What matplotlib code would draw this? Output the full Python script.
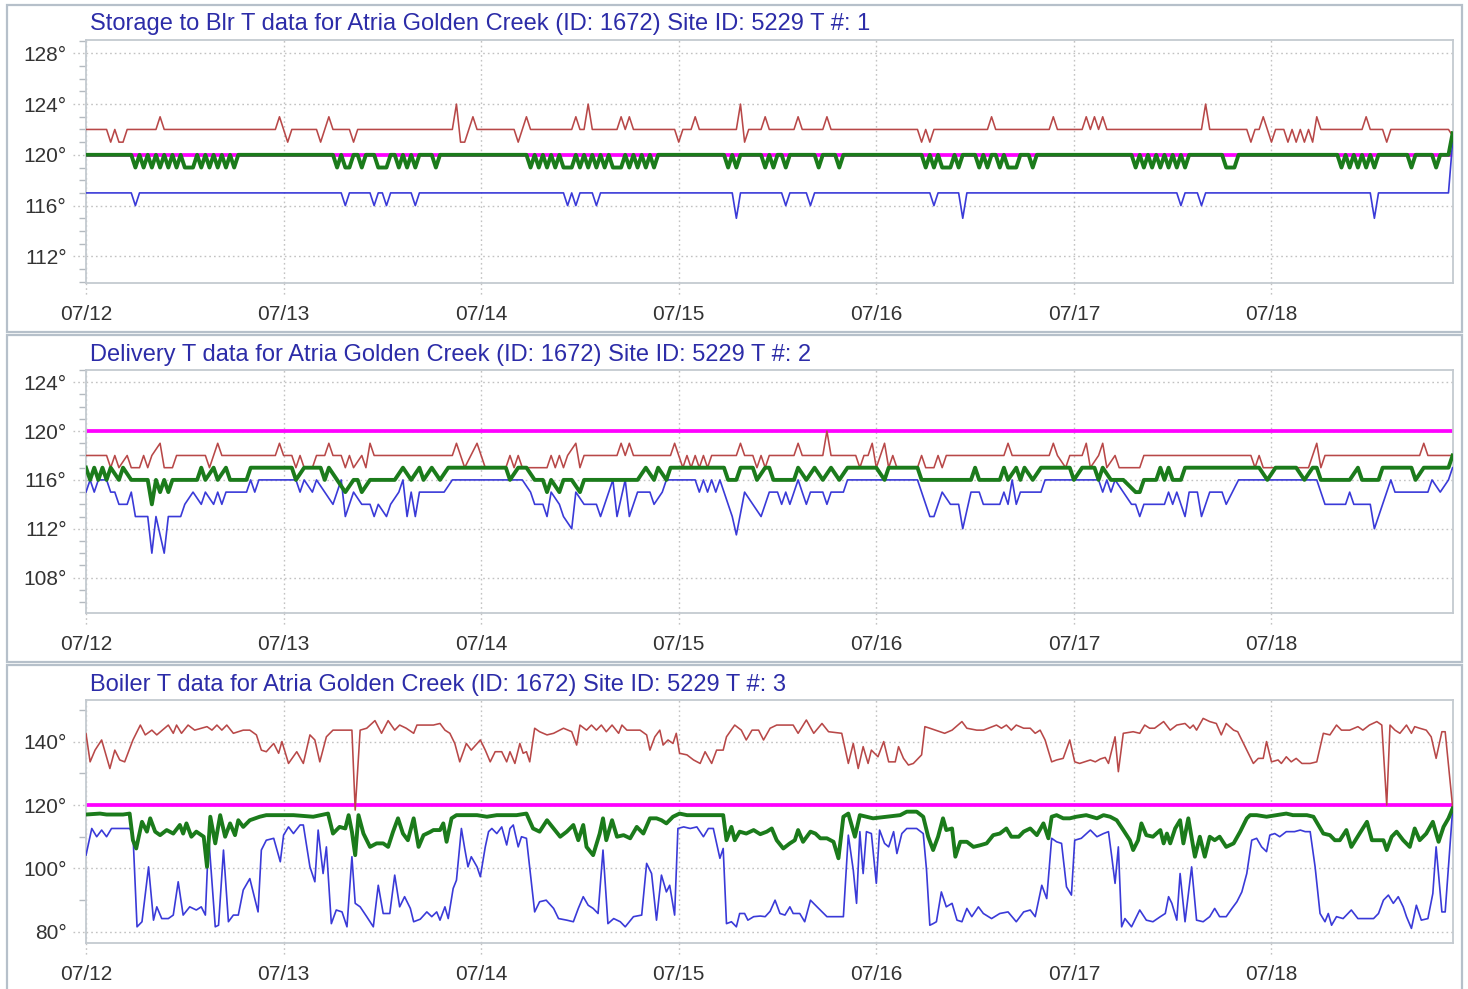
import matplotlib
matplotlib.use('Agg')
import matplotlib.pyplot as plt
from matplotlib.patches import Rectangle
from matplotlib.ticker import MultipleLocator, FixedLocator, FuncFormatter
import matplotlib.transforms as mtransforms

plt.rcParams['font.family'] = ['Liberation Sans', 'DejaVu Sans']

# ---------------- data (hours since 07/12 00:00, temperature °F) ----------------
DAY_LABELS = ['07/12', '07/13', '07/14', '07/15', '07/16', '07/17', '07/18']
DAY_HOURS = [0, 24, 48, 72, 96, 120, 144]
SETPOINT = 120
SETPOINT_SPAN = [0, 166]

TITLES = [
    "Storage to Blr T data for Atria Golden Creek (ID: 1672) Site ID: 5229 T #: 1",
    "Delivery T data for Atria Golden Creek (ID: 1672) Site ID: 5229 T #: 2",
    "Boiler T data for Atria Golden Creek (ID: 1672) Site ID: 5229 T #: 3",
]

# Panel 1 : Storage to boiler
STORE_RED = [(0,122),(2.5,122),(3,121),(3.5,122),(4,121),(4.5,121),(5,122),(8.5,122),(9,123),(9.5,122),
    (23,122),(23.5,123),(24.5,121),(25,122),(28,122),(28.5,121),(29.5,123),(30,122),(32,122),(32.5,121),(33,122),
    (44.5,122),(45,124),(45.5,121),(46,121),(46.5,122),(47,123),(47.5,122),(52,122),(52.5,121),(53.5,123),(54,122),
    (59,122),(59.5,123),(60,122),(60.5,122),(61,124),(61.5,122),(64.5,122),(65,123),(65.5,122),(66,123),(66.5,122),
    (71.5,122),(72,121),(72.5,122),(73.5,122),(74,123),(74.5,122),(79,122),(79.5,124),(80,121),(80.5,122),
    (82,122),(82.5,123),(83,122),(86,122),(86.5,123),(87,122),(89.5,122),(90,123),(90.5,122),
    (101,122),(101.5,121),(102,122),(102.5,121),(103,122),(109.5,122),(110,123),(110.5,122),(117,122),(117.5,123),(118,122),
    (121,122),(121.5,123),(122,122),(122.5,123),(123,122),(123.5,123),(124,122),(135.5,122),(136,124),(136.5,122),
    (141,122),(141.5,121),(142,122),(142.5,122),(143,123),(144,121),(144.5,122),(145.5,122),(146,121),(146.5,122),
    (147,121),(147.5,122),(148,121),(148.5,122),(149,121),(149.5,123),(150,122),(155,122),(155.5,123),(156,122),
    (157.5,122),(158,121),(158.5,122),(165.5,122),(166,121.5)]
STORE_GREEN = [(0,120),(5.5,120),(6,119),(6.5,120),(7,119),(7.5,120),(8,119),(8.5,120),(9,119),(9.5,120),(10,119),
    (10.5,120),(11,119),(11.5,120),(12,119),(13,119),(13.5,120),(14,119),(14.5,120),(15,119),(15.5,120),(16,119),
    (16.5,120),(17,119),(17.5,120),(18,119),(18.5,120),
    (30,120),(30.5,119),(31,120),(31.5,119),(32,119),(32.5,120),(33,120),(33.5,119),(34,120),(35,120),(35.5,119),
    (36.5,119),(37,120),(37.5,120),(38,119),(38.5,120),(39,119),(39.5,120),(40,119),(40.5,120),(42,120),(42.5,119),(43,120),
    (53.5,120),(54,119),(54.5,120),(55,119),(55.5,120),(56,119),(56.5,120),(57,119),(57.5,120),(58,119),(59,119),
    (59.5,120),(60,119),(60.5,120),(61,119),(61.5,120),(62,119),(62.5,120),(63,119),(63.5,120),(64,119),(65,119),
    (65.5,120),(66,119),(66.5,120),(67,119),(67.5,120),(68,119),(68.5,120),(69,119),(69.5,120),
    (77.5,120),(78,119),(78.5,120),(79,119),(79.5,120),(82,120),(82.5,119),(83,120),(83.5,119),(84,120),(84.5,120),
    (85,119),(85.5,120),(88.5,120),(89,119),(89.5,120),(91,120),(91.5,119),(92,120),
    (101.5,120),(102,119),(102.5,120),(103,119),(103.5,120),(104,119),(105,119),(105.5,120),(106,119),(106.5,120),
    (108,120),(108.5,119),(109,120),(109.5,119),(110,120),(110.5,120),(111,119),(111.5,120),(112,119),(113,119),
    (113.5,120),(114.5,120),(115,119),(115.5,120),
    (127,120),(127.5,119),(128,120),(128.5,119),(129,120),(129.5,119),(130,120),(130.5,119),(131,120),(131.5,119),
    (132,120),(132.5,119),(133,120),(133.5,119),(134,120),(138,120),(138.5,119),(139.5,119),(140,120),
    (152,120),(152.5,119),(153,120),(153.5,119),(154,120),(154.5,119),(155,120),(155.5,119),(156,120),(156.5,119),(157,120),
    (160.5,120),(161,119),(161.5,120),(163.5,120),(164,119),(164.5,120),(165.5,120),(166,121.7)]
STORE_BLUE = [(0,117),(5.5,117),(6,116),(6.5,117),(31,117),(31.5,116),(32,117),(34.5,117),(35,116),(35.5,117),
    (36,117),(36.5,116),(37,117),(39.5,117),(40,116),(40.5,117),(58,117),(58.5,116),(59,117),(59.5,116),(60,117),
    (61.5,117),(62,116),(62.5,117),(78.5,117),(79,115),(79.5,117),(84.5,117),(85,116),(85.5,117),(87.5,117),(88,116),
    (88.5,117),(102.5,117),(103,116),(103.5,117),(106,117),(106.5,115),(107,117),(132.5,117),(133,116),(133.5,117),
    (135,117),(135.5,116),(136,117),(156,117),(156.5,115),(157,117),(165.5,117),(166,121)]

# Panel 2 : Delivery
DELIV_RED = [(0,118),(2.5,118),(3,117),(3.5,118),(4,117),(5,118),(5.5,117),(6.5,117),(7,118),(7.5,117),(8,118),
    (9,119),(9.5,117),(10.5,117),(11,118),(14.5,118),(15,117),(16,119),(16.5,118),(23,118),(23.5,119),(24,118),
    (25,118),(25.5,117),(26,118),(26.5,117),(27.5,117),(28,118),(29,118),(29.5,119),(30,118),(31,118),(31.5,117),
    (32,118),(32.5,117),(33.5,118),(34,117),(34.5,119),(35,118),(44.5,118),(45,119),(45.5,118),(46,117),(47.5,119),
    (48,118),(48.5,117),(51,117),(51.5,118),(52,117),(52.5,118),(53,117),(56,117),(56.5,118),(57,117),(57.5,118),
    (58,117),(58.5,118),(59.5,119),(60,117),(60.5,118),(64.5,118),(65,119),(65.5,118),(66,119),(66.5,118),(71,118),
    (71.5,119),(72,118),(72.5,117),(73,118),(73.5,117),(74,118),(74.5,117),(75,118),(75.5,117),(76,118),(79,118),
    (79.5,119),(80,118),(81,118),(81.5,117),(82,118),(82.5,117),(83,118),(86,118),(86.5,119),(87,118),(89.5,118),
    (90,120),(90.5,118),(93.5,118),(94,117),(94.5,118),(95,118),(95.5,119),(96,117),(97,119),(97.5,117),(98,118),
    (98.5,117),(101,117),(101.5,118),(102,117),(103,117),(103.5,118),(104,117),(104.5,118),(111.5,118),(112,119),
    (112.5,118),(117,118),(117.5,119),(118,118),(119,117),(119.5,118),(121,118),(121.5,119),(122,117),(123,118),
    (123.5,119),(124,117),(125,118),(125.5,117),(128,117),(128.5,118),(141.5,118),(142,117),(142.5,118),(143,117),
    (148.5,117),(149.5,119),(150,117),(150.5,118),(162,118),(162.5,119),(163,118),(166,118)]
DELIV_GREEN = [(0,117),(0.5,116),(1,117),(1.5,116),(2,117),(2.5,116),(3,117),(4,116),(4.5,117),(5.5,116),
    (7.5,116),(8,114),(8.5,116),(9,115),(9.5,116),(10,115),(10.5,116),(13.5,116),(14,117),(14.5,116),(15.5,117),
    (16,116),(17,117),(17.5,116),(19.5,116),(20,117),(25,117),(25.5,116),(26.5,117),(28.5,117),(29,116),(29.5,117),
    (30.5,116),(31.5,115),(32.5,116),(33,116),(33.5,115),(34.5,116),(37.5,116),(38.5,117),(39.5,116),(40.5,117),
    (41,116),(42,117),(43,116),(44,117),(51,117),(51.5,116),(52.5,117),(53.5,117),(54.5,116),(55.5,116),(56,115),
    (56.5,116),(57.5,115),(58,116),(59,116),(60,115),(60.5,116),(67,116),(68,117),(69,116),(69.5,117),(70.5,116),
    (71,117),(77.5,117),(78,116),(79,116),(79.5,117),(81,117),(81.5,116),(82.5,117),(83,117),(83.5,116),(86,116),
    (86.5,117),(87.5,116),(88.5,117),(89.5,116),(90.5,117),(91.5,116),(92.5,117),(96,117),(97,116),(97.5,117),
    (101,117),(101.5,116),(107.5,116),(108,117),(108.5,116),(111,116),(111.5,117),(112,116),(113,117),(113.5,116),
    (114,117),(115,116),(116,117),(119.5,117),(120,116),(121,117),(122.5,117),(123,116),(123.5,117),(124.5,116),
    (126,116),(127.5,115),(128,115),(128.5,116),(130,116),(130.5,117),(131,116),(131.5,117),(132,116),(133,116),
    (133.5,117),(142.5,117),(143.5,116),(144.5,117),(147,117),(148,116),(149,117),(149.5,117),(150,116),(153.5,116),
    (154.5,117),(155,116),(157,116),(157.5,117),(161,117),(161.5,116),(162.5,117),(165.5,117),(166,118)]
DELIV_BLUE = [(0,115),(0.5,116),(1,115),(1.5,116),(2.5,116),(3,115),(3.5,115),(4,114),(5,114),(5.5,115),(6,113),
    (7.5,113),(8,110),(8.5,113),(9.5,110),(10,113),(11.5,113),(12,114),(13,115),(14,114),(14.5,115),(15.5,114),
    (16,115),(16.5,114),(17,115),(19.5,115),(20,116),(20.5,115),(21,116),(25.5,116),(26,115),(26.5,116),(27.5,115),
    (28,116),(29,115),(30,114),(30.5,115),(31,116),(31.5,113),(32.5,115),(33.5,114),(34.5,114),(35,113),(35.5,114),
    (36.5,113),(37,114),(38,115),(38.5,116),(39,113),(39.5,115),(40,113),(40.5,115),(43.5,115),(44.5,116),(53,116),
    (54,115),(54.5,114),(55.5,114),(56,113),(56.5,115),(57.5,114),(58,113),(59,112),(59.5,115),(60.5,114),(62,114),
    (62.5,113),(63.5,115),(64,116),(64.5,113),(65.5,116),(66,113),(67,115),(68.5,115),(69,114),(70,115),(70.5,116),
    (74,116),(74.5,115),(75,116),(75.5,115),(76,116),(76.5,115),(77,116),(77.5,115),(78.5,113),(79,111.5),(80,115),
    (81,114),(82,113),(83,115),(84,115),(84.5,114),(85,115),(85.5,114),(86.5,116),(87.5,114),(88,115),(89.5,115),
    (90,114),(90.5,115),(92,115),(92.5,116),(101,116),(102,114),(102.5,113),(103,113),(104,115),(105,114),(106,114),
    (106.5,112),(107.5,115),(108.5,115),(109,114),(111,114),(111.5,115),(112,114),(112.5,116),(113,114),(113.5,115),
    (116,115),(116.5,116),(123,116),(123.5,115),(124,116),(124.5,115),(125,116),(126,115),(127,114),(127.5,114),
    (128,113),(128.5,114),(131,114),(131.5,115),(132,114),(132.5,115),(133.5,113),(134,115),(135,115),(135.5,113),
    (136.5,115),(138,115),(138.5,114),(140,116),(149.5,116),(150,115),(150.5,114),(153,114),(153.5,115),(154,114),
    (156,114),(156.5,112),(157.5,114),(158,115),(158.5,116),(159,115),(163,115),(163.5,116),(164.5,115),(165.5,116),
    (166,117)]

# Panel 3 : Boiler
BOILER_RED = [(0,142.5),(0.5,133.6),(1.1,137.3),(1.9,140.5),(2.9,131.5),(3.5,137.3),(4.1,134.2),(4.7,133.6),
    (5.7,140.5),(6.6,145.2),(7.2,142.1),(8.0,143.6),(8.6,142.1),(10.0,145.2),(10.6,142.6),(11.0,145.2),(11.6,142.6),
    (12.4,145.2),(13.2,143.6),(14.7,144.7),(15.3,143.6),(15.9,145.2),(16.5,143.6),(17.1,145.2),(17.9,142.6),
    (19.1,143.6),(19.9,143.6),(20.7,142.1),(21.3,137.3),(21.9,136.8),(22.8,139.4),(23.4,136.3),(23.8,140.0),
    (24.6,133.1),(25.6,136.8),(26.4,133.1),(27.2,142.1),(27.8,140.5),(28.4,133.6),(29.2,141.5),(30.0,143.6),
    (32.3,143.6),(32.7,118.4),(33.3,143.6),(34.1,144.2),(35.1,146.6),(35.9,142.6),(36.7,146.6),(37.5,143.6),
    (38.1,145.2),(38.9,144.2),(39.8,142.6),(40.2,145.2),(42.2,145.2),(43.0,145.7),(43.6,143.6),(44.2,142.6),
    (44.8,139.4),(45.4,133.6),(46.2,139.4),(46.8,137.3),(47.9,140.5),(48.5,137.3),(49.1,133.6),(49.7,136.8),
    (50.5,136.8),(51.1,133.6),(51.5,136.8),(52.1,133.1),(52.7,139.4),(53.1,136.3),(53.5,136.8),(53.9,133.6),
    (54.5,144.2),(55.1,143.1),(56.0,142.1),(56.8,142.6),(58.0,144.2),(59.0,143.1),(59.6,138.9),(60.0,145.2),
    (60.8,143.6),(61.4,145.2),(62.0,143.6),(62.6,145.2),(63.2,143.1),(63.9,145.2),(64.7,142.6),(65.1,145.2),
    (65.7,143.6),(67.3,143.6),(68.1,142.1),(68.5,137.3),(69.1,141.5),(69.7,143.6),(70.1,138.9),(70.7,140.5),
    (71.3,139.4),(71.7,142.6),(72.1,136.3),(73.0,135.8),(73.8,134.2),(74.6,133.1),(75.2,136.8),(76.0,133.1),
    (76.6,137.3),(77.4,137.3),(77.8,141.5),(78.8,145.2),(79.6,143.6),(80.2,140.5),(80.9,143.6),(81.7,143.6),
    (82.3,140.5),(83.1,144.2),(83.9,145.2),(85.9,145.2),(86.5,142.6),(87.5,146.8),(88.4,142.6),(89.4,145.7),
    (90.2,143.1),(91.8,142.6),(92.6,133.1),(93.2,139.4),(93.8,131.5),(94.4,138.4),(95.0,133.1),(95.4,137.3),
    (96.2,135.2),(96.9,140.0),(97.5,133.6),(98.3,133.6),(98.7,138.4),(99.3,134.7),(99.9,132.6),(100.5,133.1),
    (101.5,135.8),(101.9,144.7),(102.5,144.2),(104.3,142.6),(105.2,143.6),(106.4,146.3),(107.0,144.2),
    (108.2,143.6),(109.0,143.6),(110.6,145.2),(111.2,144.2),(111.8,145.2),(112.4,143.6),(113.0,145.2),
    (113.9,144.2),(114.7,144.2),(115.3,142.6),(115.9,143.6),(116.5,140.5),(117.3,133.6),(117.9,134.2),
    (118.7,134.7),(119.5,140.5),(120.1,133.6),(120.7,133.1),(122.0,134.2),(122.6,133.6),(123.2,134.5),
    (123.8,135.0),(124.2,133.1),(124.6,137.3),(125.0,141.5),(125.4,130.5),(126.0,142.6),(127.2,143.1),
    (128.0,142.6),(128.6,145.2),(129.2,144.2),(129.8,144.2),(130.9,146.3),(131.7,143.6),(132.5,145.2),
    (133.5,145.7),(134.1,144.2),(134.5,145.2),(134.9,143.6),(135.7,147.3),(136.5,146.3),(137.3,145.7),
    (137.9,142.1),(138.5,145.7),(139.4,143.6),(139.9,143.1),(140.8,138.4),(141.8,133.1),(142.4,134.7),
    (143.0,134.7),(143.4,140.0),(144.0,133.6),(144.8,134.2),(145.2,133.1),(145.8,135.2),(146.4,133.6),
    (147.0,134.7),(147.7,133.1),(148.7,133.1),(149.5,133.6),(150.3,142.6),(151.1,142.1),(151.9,145.2),
    (152.5,143.6),(153.5,143.6),(154.5,144.7),(155.1,143.6),(155.9,145.2),(156.8,146.3),(157.4,145.2),
    (158.0,120.0),(158.4,145.2),(159.0,143.6),(159.6,142.6),(160.4,145.2),(161.0,142.6),(161.4,144.7),
    (162.0,144.2),(162.8,143.6),(163.4,141.5),(164.0,134.7),(164.7,143.1),(165.1,143.1),(166.0,119.5)]
BOILER_GREEN = [(0,117),(1.7,117.3),(2.5,117),(4.5,117),(5.3,117.3),(5.7,108.9),(6.1,106.3),(6.8,114.7),
    (7.4,111.6),(7.8,115.8),(8.4,111.6),(9.0,110.5),(9.8,112.1),(10.6,111.0),(11.4,113.7),(11.8,111.0),
    (12.2,114.2),(12.8,110.0),(13.4,111.6),(14.3,110.0),(14.7,100.5),(15.1,116.3),(15.7,107.9),(16.3,116.8),
    (16.9,110.0),(17.5,114.2),(18.1,110.5),(18.5,115.2),(19.1,113.1),(19.9,115.2),(21.1,116.3),(21.9,116.8),
    (25.2,116.8),(27.6,116.3),(29.4,117.3),(30.0,111.0),(30.8,113.1),(31.5,112.6),(31.9,116.8),(32.3,111.6),
    (32.7,104.2),(33.1,116.8),(33.7,111.0),(34.5,106.8),(35.3,107.9),(36.1,107.9),(36.7,106.8),(37.3,111.6),
    (37.9,115.8),(38.5,111.0),(39.1,108.9),(39.8,115.8),(40.4,106.8),(41.0,110.5),(41.8,111.5),(42.2,112.1),
    (43.0,112.1),(43.4,114.2),(43.8,108.4),(44.4,115.8),(45.0,116.8),(47.5,116.8),(48.7,116.3),(49.9,116.8),
    (52.3,116.8),(53.5,117.3),(54.3,112.6),(55.1,111.6),(56.0,115.2),(56.8,112.6),(57.6,110.0),(58.4,111.6),
    (59.2,113.7),(59.8,108.9),(60.4,113.7),(60.8,106.8),(61.6,104.2),(62.4,111.0),(62.8,115.8),(63.2,108.9),
    (63.9,115.2),(64.5,110.0),(65.3,110.5),(66.1,109.5),(66.9,113.1),(67.7,111.0),(68.5,115.8),(69.3,115.8),
    (69.9,115.2),(70.5,114.2),(71.3,116.3),(72.1,117.3),(73.0,116.8),(77.4,116.8),(77.8,108.9),(78.4,113.1),
    (78.8,108.9),(79.4,111.6),(80.2,111.0),(81.1,112.1),(81.9,110.8),(82.7,111.6),(83.3,112.6),(83.9,108.9),
    (84.7,106.3),(85.5,107.9),(86.1,108.9),(86.5,112.1),(87.1,108.4),(88.0,111.6),(88.6,111.0),(89.2,109.5),
    (90.0,109.5),(90.8,108.4),(91.4,103.2),(92.0,116.3),(92.6,117.3),(93.4,110.0),(94.0,116.8),(94.8,116.3),
    (95.6,115.8),(97.3,116.3),(98.9,116.8),(99.7,117.9),(100.9,117.9),(101.7,116.3),(102.3,110.0),(102.9,105.8),
    (103.5,110.0),(104.1,115.8),(104.5,112.1),(105.2,112.6),(105.6,103.7),(106.2,108.4),(107.0,108.4),
    (107.8,106.8),(108.6,107.3),(109.4,107.9),(110.2,110.5),(111.0,111.0),(111.8,112.6),(112.4,110.0),
    (113.3,110.0),(113.9,111.6),(114.7,112.6),(115.5,110.5),(116.3,114.2),(116.9,109.5),(117.3,116.3),
    (117.9,116.8),(118.7,115.8),(119.5,115.8),(120.3,116.3),(121.5,116.8),(122.8,115.8),(123.6,116.8),
    (124.4,116.3),(125.2,115.2),(126.0,112.1),(126.8,108.9),(127.2,105.8),(127.8,108.9),(128.2,114.2),
    (128.8,110.5),(129.6,110.0),(130.5,112.1),(130.9,107.9),(131.3,111.0),(131.7,107.9),(132.3,112.6),
    (132.9,115.2),(133.3,107.9),(133.9,115.8),(134.7,103.7),(135.3,110.0),(135.9,103.7),(136.5,110.0),
    (137.1,108.9),(137.7,110.0),(138.5,106.8),(139.4,107.9),(140.2,111.6),(141.0,115.8),(141.4,116.8),
    (142.2,116.8),(143.4,116.3),(144.6,116.8),(145.8,117.3),(146.6,116.8),(148.3,116.8),(149.1,116.3),
    (150.3,111.0),(151.1,110.5),(151.7,108.9),(152.3,108.9),(153.1,112.1),(153.7,106.8),(154.7,111.0),
    (155.6,114.7),(156.2,108.9),(157.0,108.9),(157.6,108.9),(158.0,105.8),(158.6,110.0),(159.2,111.6),
    (160.0,108.9),(160.8,106.8),(161.4,112.6),(162.0,108.9),(162.8,111.0),(163.6,114.7),(164.3,108.4),
    (164.9,113.1),(165.5,115.8),(166.0,118.9)]
BOILER_BLUE = [(0,104.2),(0.7,112.6),(1.3,110.0),(1.9,112.1),(2.5,110.0),(3.1,112.6),(3.7,112.6),(5.3,112.6),
    (5.7,111.0),(6.2,81.6),(6.8,83.2),(7.6,100.5),(8.2,83.7),(8.6,87.9),(9.2,84.2),(10.0,84.2),(10.6,85.3),
    (11.2,95.8),(11.8,85.3),(12.6,87.9),(13.4,86.9),(14.0,87.9),(14.5,85.3),(14.9,110.0),(15.7,81.6),(16.1,82.1),
    (16.7,105.8),(17.3,83.2),(17.9,85.3),(18.5,85.3),(19.1,93.2),(19.9,96.8),(20.9,86.3),(21.3,105.8),
    (21.9,108.9),(22.8,109.5),(23.6,102.1),(24.0,110.5),(24.6,113.1),(25.2,111.0),(26.0,113.7),(26.4,113.7),
    (27.2,100.5),(27.8,95.8),(28.2,112.1),(28.8,98.4),(29.2,106.8),(29.8,82.6),(30.4,86.9),(31.1,86.3),
    (31.7,81.6),(32.3,103.7),(32.7,89.0),(33.3,87.9),(34.1,84.8),(34.9,81.6),(35.5,94.7),(36.1,85.8),
    (36.9,85.8),(37.5,97.9),(38.1,87.9),(38.7,91.1),(39.4,87.4),(39.8,83.2),(40.6,84.0),(41.4,86.3),
    (42.0,84.8),(42.6,86.3),(43.0,83.7),(43.6,87.9),(44.0,84.2),(44.6,93.7),(45.0,96.3),(45.6,112.6),
    (46.0,106.3),(46.4,100.5),(46.8,103.7),(47.5,100.5),(47.9,97.4),(48.5,106.8),(48.9,111.6),(49.3,112.6),
    (49.9,111.0),(50.5,113.1),(51.1,107.4),(51.5,112.6),(51.9,113.7),(52.5,106.8),(52.9,110.0),(53.5,109.5),
    (54.5,86.3),(55.1,89.5),(55.9,90.0),(56.8,87.4),(57.4,84.2),(58.4,83.7),(59.2,83.2),(59.8,87.4),
    (60.4,91.1),(61.0,88.4),(61.6,87.4),(62.2,85.8),(62.8,105.8),(63.4,82.6),(64.1,84.2),(64.9,83.2),
    (65.5,81.6),(66.5,84.8),(67.5,85.3),(68.1,101.6),(68.7,98.4),(69.3,83.7),(69.9,97.9),(70.5,92.6),
    (70.9,94.7),(71.5,85.3),(71.9,112.6),(72.6,113.1),(73.4,112.6),(74.2,113.1),(75.0,110.0),(75.6,112.6),
    (76.2,112.6),(77.0,103.2),(77.4,106.3),(77.8,82.6),(78.4,83.2),(79.0,81.6),(79.4,85.8),(80.0,85.8),
    (80.4,83.7),(81.1,84.8),(81.9,85.0),(82.5,84.8),(83.1,86.5),(83.7,90.0),(84.3,85.8),(84.9,85.3),
    (85.5,87.9),(85.9,85.8),(86.7,85.8),(87.3,83.2),(88.0,90.0),(88.8,87.9),(90.0,84.8),(92.0,84.8),
    (92.6,110.5),(93.2,99.5),(93.6,89.0),(94.0,111.6),(94.4,98.4),(94.8,111.6),(95.4,111.0),(96.0,95.3),
    (96.4,112.1),(97.0,107.9),(97.5,106.8),(98.1,111.6),(98.5,104.7),(99.1,111.0),(99.7,112.6),(100.9,112.6),
    (101.7,111.0),(102.1,99.5),(102.5,82.1),(102.9,82.6),(103.3,83.2),(103.9,92.6),(104.5,87.9),(105.2,89.0),
    (105.8,83.7),(106.4,83.2),(107.0,87.4),(107.6,84.8),(108.4,87.9),(109.0,85.8),(110.0,84.2),(111.0,85.8),
    (112.0,86.3),(113.0,83.2),(113.9,86.3),(114.7,86.9),(115.3,84.8),(116.1,94.7),(116.7,90.5),(117.3,109.5),
    (117.9,108.4),(118.5,107.9),(119.1,94.2),(119.7,91.6),(120.1,108.9),(120.9,109.5),(122.0,112.1),
    (122.8,110.0),(123.6,111.0),(124.2,111.6),(124.6,103.7),(125.0,95.3),(125.4,106.8),(125.8,81.6),
    (126.2,84.2),(127.0,81.6),(128.0,86.9),(128.8,83.7),(129.6,83.2),(130.5,84.8),(131.1,85.8),(131.5,91.1),
    (131.9,89.0),(132.5,83.7),(132.9,98.4),(133.5,83.2),(134.3,100.5),(134.9,83.7),(135.7,83.2),(136.5,84.8),
    (137.1,87.4),(137.7,84.8),(138.5,84.8),(139.2,87.4),(139.8,89.5),(140.4,92.6),(141.0,98.4),(141.6,108.9),
    (142.2,109.5),(142.8,106.8),(143.4,105.3),(143.8,110.5),(144.4,111.0),(145.0,110.0),(145.8,111.6),
    (146.8,111.6),(147.5,112.1),(148.1,111.6),(148.7,111.6),(149.3,100.5),(149.9,85.8),(150.5,83.2),
    (150.9,85.8),(151.3,82.1),(151.9,84.8),(152.7,84.2),(153.7,86.9),(154.5,84.2),(156.4,84.2),(157.0,85.8),
    (157.6,90.0),(158.2,91.6),(158.8,89.0),(159.4,91.1),(160.0,87.9),(160.4,84.8),(161.0,81.1),(161.6,88.4),
    (162.2,83.7),(163.0,84.2),(163.6,92.1),(164.0,106.8),(164.7,86.3),(165.1,86.3),(165.5,100.5),(166.0,118.4)]

PANELS = [
    dict(title=TITLES[0], red=STORE_RED, green=STORE_GREEN, blue=STORE_BLUE,
         ylim=(109.9, 129.05), yticks=[112, 116, 120, 124, 128], minor=1,
         frame=(5, 332), axes=(40, 283), title_y=24),
    dict(title=TITLES[1], red=DELIV_RED, green=DELIV_GREEN, blue=DELIV_BLUE,
         ylim=(105.1, 125.0), yticks=[108, 112, 116, 120, 124], minor=1,
         frame=(335, 662), axes=(370, 613), title_y=355),
    dict(title=TITLES[2], red=BOILER_RED, green=BOILER_GREEN, blue=BOILER_BLUE,
         ylim=(76.5, 153.1), yticks=[80, 100, 120, 140], minor=10,
         frame=(665, 995), axes=(700, 943), title_y=685),
]

# ---------------- style ----------------
W, H = 1468, 989
AX_L, AX_R = 86, 1453
C_RED = '#b84848'
C_GREEN = '#1b7b1b'
C_BLUE = '#3a3ad8'
C_MAG = '#ff00ff'
C_TITLE = '#2c2ca8'
C_TEXT = '#333333'
C_GRID = '#c2c2c2'
C_SPINE = '#c4cad0'
FONT = 15
TITLE_FONT = 17

fig = plt.figure(figsize=(W / 100, H / 100), dpi=100)
fig.patch.set_facecolor('white')

def fx(px):
    return px / W

def fy(py):
    return 1 - py / H

for p in PANELS:
    ftop, fbot = p['frame']
    fig.add_artist(Rectangle((fx(7), fy(fbot)), fx(1462) - fx(7), fy(ftop) - fy(fbot),
                             transform=fig.transFigure, fill=False, ec='#b6c0ca', lw=1.6, zorder=0))
    atop, abot = p['axes']
    ax = fig.add_axes([fx(AX_L), fy(abot), fx(AX_R) - fx(AX_L), fy(atop) - fy(abot)])
    ax.set_facecolor('white')

    ax.plot(SETPOINT_SPAN, [SETPOINT, SETPOINT], color=C_MAG, lw=2.7, zorder=2, solid_capstyle='butt')
    for key, col, lw, z in (('red', C_RED, 1.15, 3), ('blue', C_BLUE, 1.2, 3), ('green', C_GREEN, 2.8, 4)):
        t, v = zip(*p[key])
        ax.plot(t, v, color=col, lw=lw, zorder=z, solid_joinstyle='round')

    ax.set_xlim(0, 166.05)
    ax.set_ylim(*p['ylim'])
    ax.xaxis.set_major_locator(FixedLocator(DAY_HOURS))
    ax.set_xticklabels(DAY_LABELS)
    ax.yaxis.set_major_locator(FixedLocator(p['yticks']))
    ax.yaxis.set_major_formatter(FuncFormatter(lambda v, pos: f"{int(v)}°"))
    ax.yaxis.set_minor_locator(MultipleLocator(p['minor']))
    ax.xaxis.set_minor_locator(FixedLocator([]))
    ax.tick_params(axis='x', which='major', length=0, pad=16, labelsize=FONT, labelcolor=C_TEXT)
    ax.tick_params(axis='y', which='major', length=0, pad=14, labelsize=FONT, labelcolor=C_TEXT)
    ax.tick_params(axis='y', which='minor', length=5, width=1, color='#b4bac0')
    ax.grid(True, which='major', color=C_GRID, linestyle=(0, (1.2, 2.2)), linewidth=1.0, zorder=1)
    ax.set_axisbelow(True)
    for s in ax.spines.values():
        s.set_color(C_SPINE)
        s.set_linewidth(1.3)

    ax_h = abot - atop
    ax_w = AX_R - AX_L
    tx = mtransforms.blended_transform_factory(ax.transData, ax.transAxes)
    for h in DAY_HOURS:
        ax.plot([h, h], [0, -14 / ax_h], transform=tx, color=C_GRID, linestyle=(0, (1.2, 2.2)),
                lw=1.0, clip_on=False)
    ty = mtransforms.blended_transform_factory(ax.transAxes, ax.transData)
    for yv in p['yticks']:
        ax.plot([-13 / ax_w, 0], [yv, yv], transform=ty, color=C_GRID, linestyle=(0, (1.2, 2.2)),
                lw=1.0, clip_on=False)

    fig.text(fx(90), fy(p['title_y']), p['title'], color=C_TITLE, fontsize=TITLE_FONT,
             ha='left', va='center')

fig.savefig('out.png', dpi=100, facecolor='white')
